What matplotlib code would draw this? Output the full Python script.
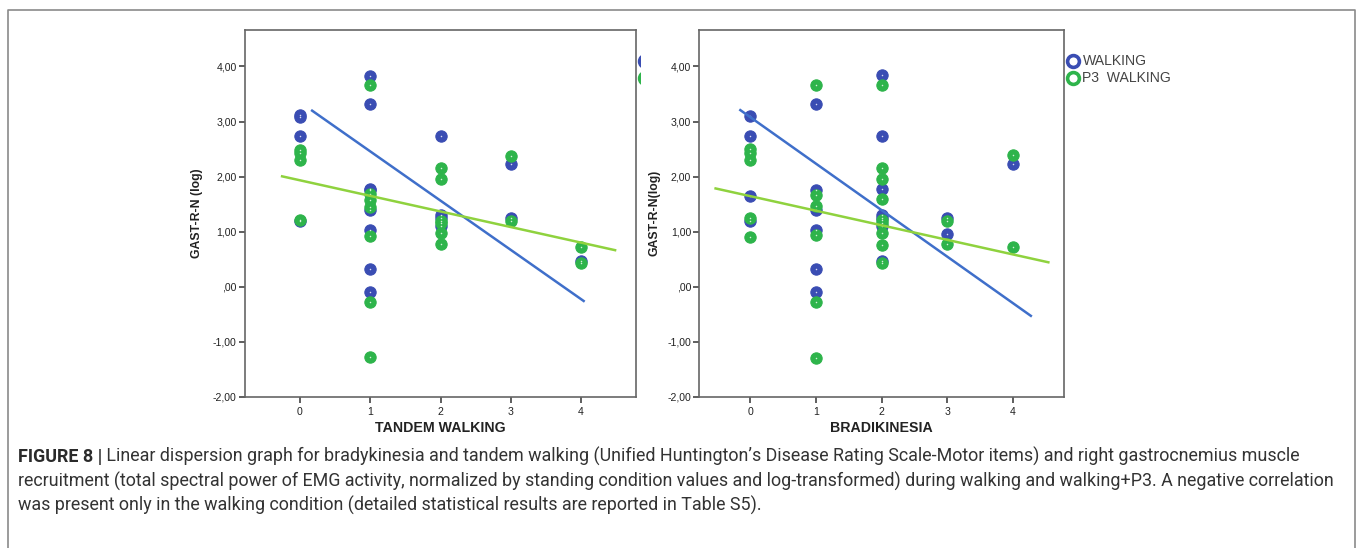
import matplotlib
matplotlib.use("Agg")
import matplotlib.pyplot as plt
from matplotlib.lines import Line2D
from matplotlib.patches import Rectangle

plt.rcParams['font.family'] = ['Liberation Sans', 'DejaVu Sans']

# ---------------- data ----------------
ytick_vals = [-2, -1, 0, 1, 2, 3, 4]
ytick_labels = ['-2,00', '-1,00', ',00', '1,00', '2,00', '3,00', '4,00']
xtick_vals = [0, 1, 2, 3, 4]
xtick_labels = ['0', '1', '2', '3', '4']

# Left panel: TANDEM WALKING
tandem_walk_x = [0, 0, 0, 0, 1, 1, 1, 1, 1, 1, 1, 1, 2, 2, 2, 2, 3, 3, 4]
tandem_walk_y = [3.12, 3.08, 2.73, 1.20, 3.83, 3.32, 1.78, 1.75, 1.40, 1.03, 0.32, -0.10,
                 2.73, 1.30, 1.25, 1.10, 2.22, 1.25, 0.47]
tandem_p3_x = [0, 0, 0, 0, 1, 1, 1, 1, 1, 1, 1, 2, 2, 2, 2, 2, 2, 3, 3, 4, 4]
tandem_p3_y = [2.49, 2.43, 2.30, 1.22, 3.67, 1.68, 1.58, 1.45, 0.92, -0.27, -1.28,
               2.15, 1.95, 1.20, 1.15, 0.98, 0.77, 2.38, 1.20, 0.72, 0.43]
tandem_walk_fit_x = [0.16, 4.05]
tandem_walk_fit_y = [3.21, -0.27]
tandem_p3_fit_x = [-0.27, 4.50]
tandem_p3_fit_y = [2.01, 0.66]

# Right panel: BRADIKINESIA
brady_walk_x = [0, 0, 0, 0, 1, 1, 1, 1, 1, 1, 2, 2, 2, 2, 2, 2, 2, 3, 3, 4]
brady_walk_y = [3.10, 2.73, 1.65, 1.19, 3.32, 1.76, 1.40, 1.04, 0.32, -0.10,
                3.84, 2.74, 1.78, 1.31, 1.25, 1.10, 0.47, 1.25, 0.96, 2.22]
brady_p3_x = [0, 0, 0, 0, 0, 1, 1, 1, 1, 1, 1, 2, 2, 2, 2, 2, 2, 2, 2, 2, 3, 3, 4, 4]
brady_p3_y = [2.50, 2.43, 2.30, 1.25, 0.90, 3.67, 1.67, 1.47, 0.94, -0.27, -1.29,
              3.67, 2.16, 1.95, 1.59, 1.22, 1.15, 0.98, 0.76, 0.43, 1.20, 0.78, 2.39, 0.72]
brady_walk_fit_x = [-0.17, 4.29]
brady_walk_fit_y = [3.22, -0.54]
brady_p3_fit_x = [-0.55, 4.56]
brady_p3_fit_y = [1.79, 0.44]

legend_labels = ['WALKING', 'P3  WALKING']

caption_bold = 'FIGURE 8 |'
caption_lines = [
    ' Linear dispersion graph for bradykinesia and tandem walking (Unified Huntington\u2019s Disease Rating Scale-Motor items) and right gastrocnemius muscle',
    'recruitment (total spectral power of EMG activity, normalized by standing condition values and log-transformed) during walking and walking+P3. A negative correlation',
    'was present only in the walking condition (detailed statistical results are reported in Table S5).',
]

# ---------------- styling ----------------
BLUE = '#3a4db3'
GREEN = '#2eb44b'
BLUE_LINE = '#3f6fca'
GREEN_LINE = '#8fd23e'
W, H = 1360, 548
CAP_FONT = ['Roboto', 'Liberation Sans', 'DejaVu Sans']

fig = plt.figure(figsize=(13.6, 5.48), dpi=100)


def fx(px):
    return px / W


def fy(py):
    return 1 - py / H


def panel(rect, wx, wy, px, py, wfx, wfy, pfx, pfy, xlabel, ylabel, ylab_x):
    ax = fig.add_axes(rect)
    ax.scatter(wx, wy, s=66, color=BLUE, edgecolors=BLUE, linewidths=0.8, zorder=2)
    ax.scatter(px, py, s=66, color=GREEN, edgecolors=GREEN, linewidths=0.8, zorder=2.1)
    ax.scatter(wx + px, wy + py, s=1.2, color='white', alpha=0.8, zorder=2.2, linewidths=0)
    ax.plot(wfx, wfy, color=BLUE_LINE, lw=1.8, zorder=3, solid_capstyle='butt')
    ax.plot(pfx, pfy, color=GREEN_LINE, lw=1.8, zorder=3, solid_capstyle='butt')
    ax.set_xlim(-0.78, 4.78)
    ax.set_ylim(-2.0, 4.67)
    ax.set_yticks(ytick_vals)
    ax.set_yticklabels(ytick_labels)
    ax.set_xticks(xtick_vals)
    ax.set_xticklabels(xtick_labels)
    ax.tick_params(axis='both', direction='out', length=4, width=1.1, color='#333333',
                   labelsize=7.6, labelcolor='#222222', pad=2)
    ax.tick_params(axis='x', pad=3)
    for s in ax.spines.values():
        s.set_color('#666666')
        s.set_linewidth(1.2)
    ax.set_xlabel(xlabel, fontsize=10.2, fontweight='bold', color='#222222', va='center')
    ax.xaxis.set_label_coords(0.5, -0.085)
    ax.set_ylabel(ylabel, fontsize=8.8, fontweight='bold', color='#222222', va='center')
    ax.yaxis.set_label_coords(ylab_x, 0.5)
    return ax


left_rect = [fx(245), fy(397), (636 - 245) / W, (397 - 29.5) / H]
right_rect = [fx(699.3), fy(397), (1064 - 699.3) / W, (397 - 29.5) / H]

panel(left_rect, tandem_walk_x, tandem_walk_y, tandem_p3_x, tandem_p3_y,
      tandem_walk_fit_x, tandem_walk_fit_y, tandem_p3_fit_x, tandem_p3_fit_y,
      'TANDEM WALKING', 'GAST-R-N (log)', -0.123)
panel(right_rect, brady_walk_x, brady_walk_y, brady_p3_x, brady_p3_y,
      brady_walk_fit_x, brady_walk_fit_y, brady_p3_fit_x, brady_p3_fit_y,
      'BRADIKINESIA', 'GAST-R-N(log)', -0.124)

# legend of right panel
for i, (lab, col) in enumerate(zip(legend_labels, [BLUE, GREEN])):
    yy = 60.7 + i * 17.6
    fig.add_artist(Line2D([fx(1073.3)], [fy(yy)], marker='o', ms=8.5, mew=2.6,
                          mec=col, mfc='white', transform=fig.transFigure))
    fig.text(fx(1082.5), fy(yy), lab, fontsize=10.1, color='#444444', va='center', ha='left')

# left panel's legend, cut off by the right image
clip = Rectangle((0, 0), fx(639.5), 1, transform=fig.transFigure)
for i, col in enumerate([BLUE, GREEN]):
    yy = 60.5 + i * 17.2
    m = Line2D([fx(644.5)], [fy(yy)], marker='o', ms=8.5, mew=2.6, mec=col, mfc='white',
               transform=fig.transFigure)
    m.set_clip_path(clip)
    fig.add_artist(m)

# outer frame
fig.add_artist(Line2D([fx(8), fx(8), fx(1355), fx(1355)], [0, fy(10), fy(10), 0],
                      color='#8a8a8a', lw=1.2, transform=fig.transFigure))

# caption
fig.canvas.draw()
r = fig.canvas.get_renderer()
probe = fig.text(0, 0, caption_lines[1], fontsize=12, family=CAP_FONT)
w = probe.get_window_extent(r).width
probe.remove()
fs = 12 * (1333 - 18) / w

baselines = [462, 487, 511]
tb = fig.text(fx(18), fy(baselines[0]), caption_bold, fontsize=fs, fontweight='bold',
              family=CAP_FONT, color='#2a2a2a', va='baseline', ha='left')
wb = tb.get_window_extent(r).width
fig.text(fx(18 + wb), fy(baselines[0]), caption_lines[0], fontsize=fs, color='#333333',
         family=CAP_FONT, va='baseline', ha='left')
for line, b in zip(caption_lines[1:], baselines[1:]):
    fig.text(fx(18), fy(b), line, fontsize=fs, color='#333333', family=CAP_FONT,
             va='baseline', ha='left')

fig.savefig('out.png', dpi=100)
